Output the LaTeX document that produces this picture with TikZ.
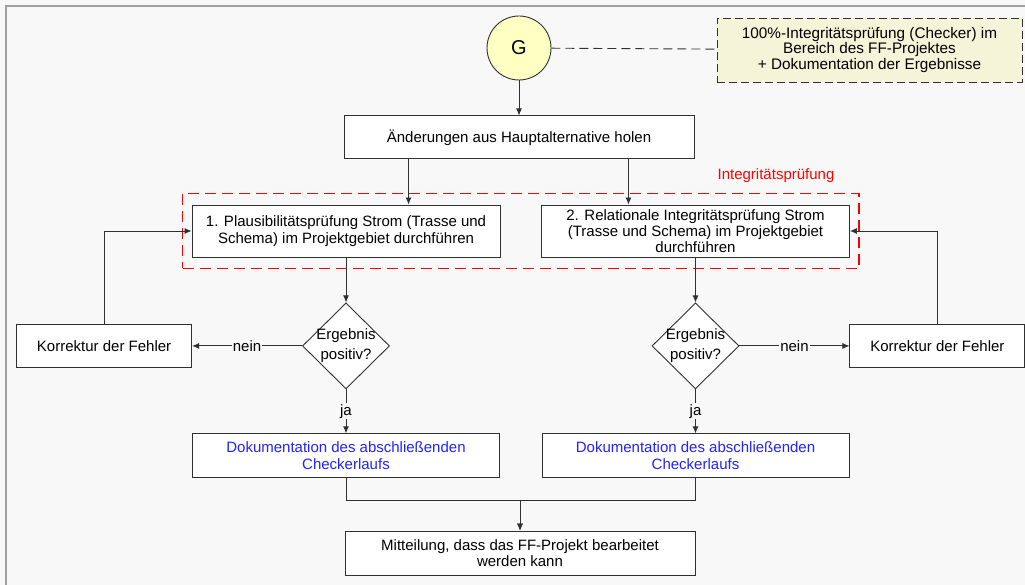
\documentclass[tikz,border=0pt]{standalone}
\usepackage{fontspec}
\setmainfont{Liberation Sans}
\usepackage{xcolor}
\usetikzlibrary{arrows.meta, positioning, fit, shapes.geometric, calc}

\definecolor{pagebg}{HTML}{F8F8F8}
\definecolor{framegray}{HTML}{A0A0A0}
\definecolor{linegray}{HTML}{303030}
\definecolor{gatefill}{HTML}{FFFFC4}
\definecolor{notefill}{HTML}{F4F4D8}
\definecolor{docblue}{HTML}{2222FF}

\begin{document}
\begin{tikzpicture}[
    x=1pt, y=-1pt,
    node distance=40pt and 40pt,
    process/.style={rectangle, minimum width=308pt, minimum height=52pt, align=center, draw=linegray, line width=0.9pt, fill=white, font=\fontsize{15}{16.5}\selectfont},
    decision/.style={diamond, aspect=1, inner sep=0pt, minimum width=87pt, minimum height=86pt, align=center, draw=linegray, line width=0.9pt, fill=white, font=\fontsize{15}{20}\selectfont},
    gatestyle/.style={circle, minimum size=64pt, inner sep=0pt, draw=linegray, line width=0.9pt, fill=gatefill, font=\fontsize{20}{22}\selectfont},
    note/.style={rectangle, minimum width=305pt, minimum height=64pt, align=center, draw=linegray, line width=0.9pt, dash pattern=on 8pt off 4pt, fill=notefill, font=\fontsize{15.3}{15.5}\selectfont},
    tag/.style={fill=pagebg, inner sep=1pt, font=\fontsize{15}{16}\selectfont},
    line/.style={draw=linegray, line width=0.9pt, -{Latex[length=7pt, width=6pt]}}
]
    \useasboundingbox (0,0) rectangle (1025,585);
    \fill[pagebg] (0,0) rectangle (1025,585);
    \draw[framegray, line width=1.5pt] (6,585) -- (6,6) -- (1025,6);

    \node[gatestyle] (gate) at (519,48) {G};
    \node[note] (note) at (869.5,50) {100\%-Integritätsprüfung (Checker) im\\Bereich des FF-Projektes\\+ Dokumentation der Ergebnisse};
    \node[process, minimum width=350pt, minimum height=43pt, below=35pt of gate] (fetch) {Änderungen aus Hauptalternative holen};

    \node[process] (check1) at (346,231) {1. Plausibilitätsprüfung Strom (Trasse und\\Schema) im Projektgebiet durchführen};
    \node[process, font=\fontsize{15}{16}\selectfont] (check2) at (695.5,231) {2. Relationale Integritätsprüfung Strom\\(Trasse und Schema) im Projektgebiet\\durchführen};
    \node[draw=red, line width=1.6pt, dash pattern=on 11pt off 6pt, inner xsep=9pt, inner ysep=11pt, fit=(check1)(check2)] (frame) {};
    \node[text=red, font=\fontsize{15}{16}\selectfont] (frametitle) at (776,176) {Integritätsprüfung};

    \node[decision, below=45pt of check1] (dec1) {\makebox[0pt]{\begin{tabular}{@{}c@{}}Ergebnis\\positiv?\end{tabular}}};
    \node[decision, below=45pt of check2] (dec2) {\makebox[0pt]{\begin{tabular}{@{}c@{}}Ergebnis\\positiv?\end{tabular}}};

    \node[process, minimum width=175pt, minimum height=43pt, left=110pt of dec1] (fix1) {Korrektur der Fehler};
    \node[process, minimum width=175pt, minimum height=43pt, right=110pt of dec2] (fix2) {Korrektur der Fehler};

    \node[process, minimum width=307pt, minimum height=44pt, text=docblue, below=44pt of dec1] (doc1) {Dokumentation des abschließenden\\Checkerlaufs};
    \node[process, minimum width=307pt, minimum height=44pt, text=docblue, below=44pt of dec2] (doc2) {Dokumentation des abschließenden\\Checkerlaufs};

    \node[process, minimum width=350pt, minimum height=44pt] (final) at (520,553) {Mitteilung, dass das FF-Projekt bearbeitet\\werden kann};

    % Connectors
    \draw[line] (gate) -- (fetch);
    \draw[draw=linegray, line width=0.9pt, dash pattern=on 9pt off 5pt] (gate) -- (note);
    \draw[line] ([xshift=65pt]fetch.south west) -- ([xshift=65pt]fetch.south west |- check1.north);
    \draw[line] ([xshift=-66pt]fetch.south east) -- ([xshift=-66pt]fetch.south east |- check2.north);
    \draw[line] (check1) -- (dec1);
    \draw[line] (check2) -- (dec2);
    \draw[line] (dec1) -- node[tag] {nein} (fix1);
    \draw[line] (dec2) -- node[tag] {nein} (fix2);
    \draw[line] (fix1.north) |- (check1.west);
    \draw[line] (fix2.north) |- (check2.east);
    \draw[line] (dec1) -- node[tag] {ja} (doc1);
    \draw[line] (dec2) -- node[tag] {ja} (doc2);
    \draw[line] (doc1.south) -- ++(0,22) -| (final.north);
    \draw[line] (doc2.south) -- ++(0,22) -| (final.north);
\end{tikzpicture}
\end{document}
